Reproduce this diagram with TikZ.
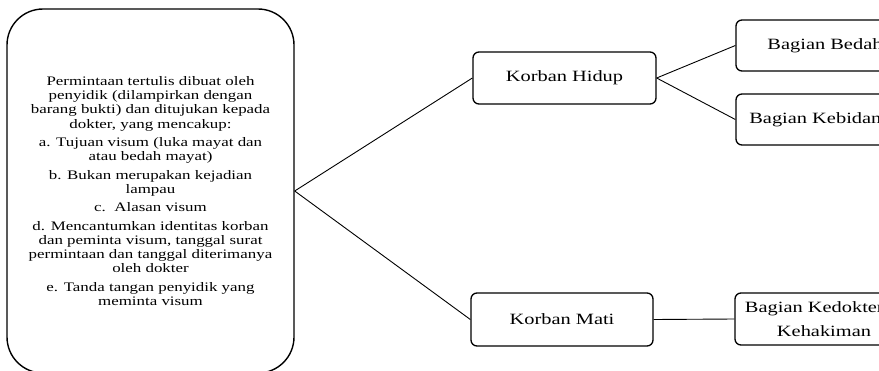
\documentclass[tikz,border=0pt]{standalone}
\usepackage{fontspec}
\setmainfont{Liberation Serif}[FakeStretch=1.3]
\begin{document}
\begin{tikzpicture}[x=1pt,y=-1pt,
  box/.style={draw=black,line width=1.3pt,rounded corners=6pt,inner sep=0pt,align=center},
  bigbox/.style={draw=black,line width=1.4pt,rounded corners=36pt,inner sep=0pt,align=center,
    minimum width=287pt,minimum height=364pt,font=\fontsize{13}{14.3}\selectfont},
  midtext/.style={font=\fontsize{15.7}{23.5}\selectfont},
  link/.style={draw=black,line width=0.9pt}]
\useasboundingbox (0,0) rectangle (879,370);
\clip (0,0) rectangle (879,370);
\node[bigbox] (req) at (150.5,191) {Permintaan tertulis dibuat oleh\\ penyidik (dilampirkan dengan\\ barang bukti) dan ditujukan kepada\\ dokter, yang mencakup:\\[4pt] a. Tujuan visum (luka mayat dan\\ atau bedah mayat)\\[4pt] b. Bukan merupakan kejadian\\ lampau\\[4pt] c.\ \ Alasan visum\\[4pt] d. Mencantumkan identitas korban\\ dan peminta visum, tanggal surat\\ permintaan dan tanggal diterimanya\\ oleh dokter\\[4pt] e. Tanda tangan penyidik yang\\ meminta visum};
\node[box,midtext,minimum width=183pt,minimum height=52pt] (kh) at (564.5,78) {Korban Hidup};
\node[box,midtext,minimum width=182pt,minimum height=53pt] (km) at (562,319.5) {Korban Mati};
\node[box,midtext,minimum width=178pt,minimum height=51pt] (bedah) at (825,45.5) {Bagian Bedah};
\node[box,midtext,minimum width=178pt,minimum height=51pt] (bidan) at (825,119.5) {Bagian Kebidanan};
\node[box,midtext,minimum width=178pt,minimum height=52pt] (kedok) at (824,319) {Bagian Kedokteran\\ Kehakiman};
\draw[link] (req.east) -- (kh.west);
\draw[link] (req.east) -- (km.west);
\draw[link] (kh.east) -- (bedah.west);
\draw[link] (kh.east) -- (bidan.west);
\draw[link] (km.east) -- (kedok.west);
\end{tikzpicture}
\end{document}
